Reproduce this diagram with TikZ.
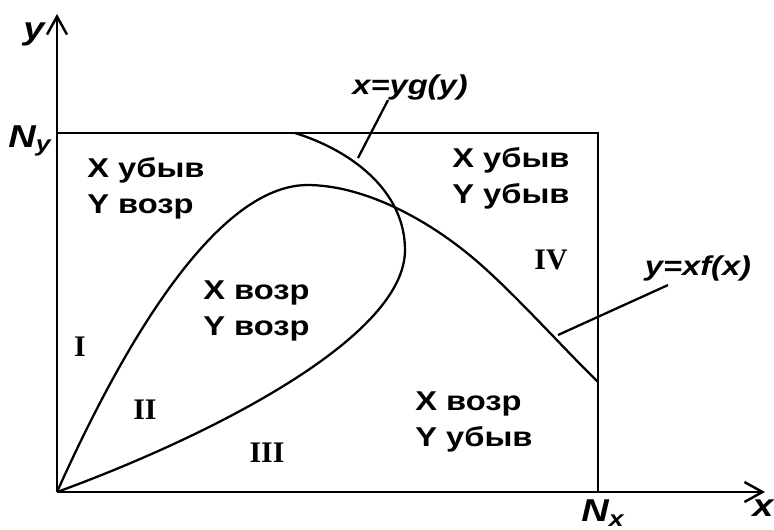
\documentclass[tikz,border=0pt]{standalone}
\usepackage{fontspec}
\setmainfont{Liberation Sans}
\newfontfamily\zonefont[FakeStretch=1.2]{Liberation Sans}
\newfontfamily\romfont{Liberation Serif}
\usetikzlibrary{arrows.meta}
\tikzset{
  zone/.style={font=\zonefont\bfseries\fontsize{15.5}{20.5}\selectfont, align=left, anchor=north west, inner sep=0pt},
  roman/.style={font=\romfont\bfseries\fontsize{17}{20}\selectfont, inner sep=0pt},
  curvelab/.style={font=\zonefont\bfseries\itshape\fontsize{15.5}{17}\selectfont, inner sep=0pt},
  axislab/.style={font=\zonefont\bfseries\itshape\fontsize{18}{20}\selectfont, inner sep=0pt},
  frame/.style={line width=1.4pt},
  curve/.style={line width=1.3pt},
  axis/.style={line width=1.4pt, -{Straight Barb[length=0.36cm,width=0.4cm,line width=1.4pt]}},
}
\begin{document}
\begin{tikzpicture}[x=0.02cm, y=-0.02cm]
  \useasboundingbox (0,0) rectangle (774,529);
  % corners of the box
  \coordinate (O) at (57,492);
  \coordinate (ytop) at (57,14);
  \coordinate (xend) at (765,492);
  \coordinate (NyC) at (57,133);
  \coordinate (NC) at (598,133);
  \coordinate (NxC) at (598,492);
  % axes and box
  \draw[axis] (O) -- (ytop);
  \draw[axis] (O) -- (xend);
  \draw[frame] (NyC) -- (NC) -- (NxC);
  \node[axislab] (ylab) at (34,34) {y};
  \node[axislab] (xlab) at (763,508) {x};
  \node[axislab] (Ny) at (30,141) {N\textsubscript{y}};
  \node[axislab] (Nx) at (603,513) {N\textsubscript{x}};
  % y = x f(x)
  \coordinate (ftop) at (307,185);
  \coordinate (fmid) at (467,253);
  \coordinate (fend) at (598,382);
  \draw[curve] (O) .. controls (105,385) and (205,186) .. (ftop)
    .. controls (360,185) and (420,215) .. (fmid)
    .. controls (507,285) and (560,345) .. (fend);
  % x = y g(y)
  \coordinate (gright) at (405,250);
  \coordinate (gstart) at (295,133);
  \draw[curve] (O) .. controls (200,440) and (405,340) .. (gright)
    .. controls (405,190) and (350,150) .. (gstart);
  % curve labels
  \node[curvelab] (glab) at (410,87) {x=yg(y)};
  \node[curvelab] (flab) at (698,268) {y=xf(x)};
  \coordinate (gpt) at (358,158);
  \coordinate (fpt) at (558,335);
  \draw[curve] ([xshift=-0.44cm]glab.south) -- (gpt);
  \draw[curve] ([xshift=-0.6cm,yshift=-0.08cm]flab.south) -- (fpt);
  % zones
  \node[zone] (z1) at (87,157) {X убыв\\Y возр};
  \node[zone] (z2) at (203,280) {X возр\\Y возр};
  \node[zone] (z3) at (452,147) {X убыв\\Y убыв};
  \node[zone] (z4) at (415,391) {X возр\\Y убыв};
  \node[roman] (r1) at (80,347) {I};
  \node[roman] (r2) at (145,410) {II};
  \node[roman] (r3) at (267,453) {III};
  \node[roman] (r4) at (551,260) {IV};
\end{tikzpicture}
\end{document}
